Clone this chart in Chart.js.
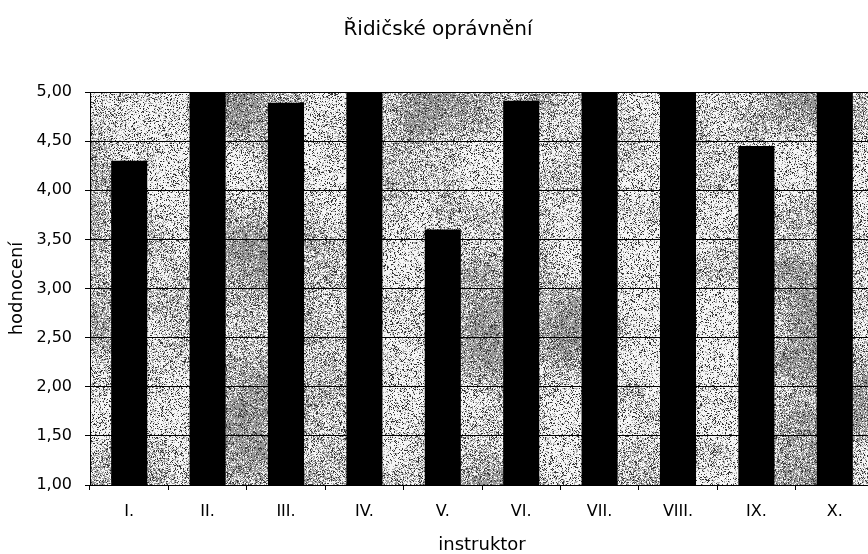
<!DOCTYPE html>
<html>
<head>
<meta charset="utf-8">
<script src="https://cdn.jsdelivr.net/npm/chart.js@4"></script>
<style>
  html, body { margin: 0; padding: 0; background: #fff; overflow: hidden; }
  #wrap { width: 868px; height: 554px; overflow: hidden; }
  canvas { display: block; }
</style>
</head>
<body>
<div id="wrap"><canvas id="c" width="880" height="554"></canvas></div>
<script>
// Instructor ratings for the driving licence course
const chartTitle = 'Řidičské oprávnění';
const categories = ['I.', 'II.', 'III.', 'IV.', 'V.', 'VI.', 'VII.', 'VIII.', 'IX.', 'X.'];
const ratings = [4.30, 5.00, 4.89, 5.00, 3.60, 4.91, 5.00, 5.00, 4.45, 5.00];
const yTitle = 'hodnocení';
const xTitle = 'instruktor';

const FONT = '"DejaVu Sans", sans-serif';

// Speckled grey backdrop for the plot area (deterministic hash noise)
function hash(x, y) {
  let h = (x * 374761393 + y * 668265263) | 0;
  h = (h ^ (h >>> 13)) * 1274126177 | 0;
  h = h ^ (h >>> 16);
  return (h >>> 0) / 4294967296;
}
function smooth(t) { return t * t * (3 - 2 * t); }
function valueNoise(x, y, cell, seed) {
  const gx = Math.floor(x / cell), gy = Math.floor(y / cell);
  const fx = smooth(x / cell - gx), fy = smooth(y / cell - gy);
  const a = hash(gx + seed, gy), b = hash(gx + 1 + seed, gy);
  const c = hash(gx + seed, gy + 1), d = hash(gx + 1 + seed, gy + 1);
  return (a * (1 - fx) + b * fx) * (1 - fy) + (c * (1 - fx) + d * fx) * fy;
}
let texture = null;
function buildTexture(w, h) {
  const cv = document.createElement('canvas');
  cv.width = w; cv.height = h;
  const ctx = cv.getContext('2d');
  const img = ctx.createImageData(w, h);
  for (let y = 0; y < h; y++) {
    for (let x = 0; x < w; x++) {
      const f = 0.65 * valueNoise(x, y, 80, 17) + 0.35 * valueNoise(x, y, 30, 91);
      const g = Math.min(1, Math.max(0, (f - 0.28) * 2.0));
      const p = hash(x + 1000, y + 7);
      const q = hash(x + 31, y + 5000);
      let v;
      if (q < g) {
        v = p < 0.18 ? 60 : (p < 0.32 ? 235 : 150);
      } else {
        v = p < 0.14 ? 50 : (p < 0.30 ? 175 : 245);
      }
      const i = (y * w + x) * 4;
      img.data[i] = img.data[i + 1] = img.data[i + 2] = v;
      img.data[i + 3] = 255;
    }
  }
  ctx.putImageData(img, 0, 0);
  return cv;
}

const plotBackground = {
  id: 'plotBackground',
  beforeDraw(chart) {
    const a = chart.chartArea;
    const w = Math.round(a.right - a.left), h = Math.round(a.bottom - a.top);
    if (!texture || texture.width !== w || texture.height !== h) texture = buildTexture(w, h);
    chart.ctx.drawImage(texture, a.left, a.top);
  }
};

const titlePlugin = {
  id: 'titleText',
  afterDraw(chart) {
    const ctx = chart.ctx;
    ctx.save();
    ctx.font = '20px ' + FONT;
    ctx.fillStyle = '#000';
    ctx.textAlign = 'center';
    ctx.textBaseline = 'alphabetic';
    ctx.fillText(chartTitle, 438, 35);
    ctx.restore();
  }
};

new Chart(document.getElementById('c'), {
  type: 'bar',
  data: {
    labels: categories,
    datasets: [{
      data: ratings,
      backgroundColor: '#000',
      borderWidth: 0,
      categoryPercentage: 1.0,
      barPercentage: 0.46
    }]
  },
  options: {
    responsive: false,
    animation: false,
    layout: { padding: { top: 92, left: 0, right: 6, bottom: 0 } },
    plugins: { legend: { display: false }, tooltip: { enabled: false }, title: { display: false } },
    scales: {
      x: {
        offset: true,
        grid: { display: true, drawOnChartArea: false, drawTicks: true, tickLength: 5, color: '#000', offset: true },
        border: { display: true, color: '#000', width: 1 },
        ticks: { color: '#000', font: { family: FONT, size: 16 }, padding: 12, maxRotation: 0 },
        title: { display: true, text: xTitle, color: '#000', font: { family: FONT, size: 18, lineHeight: 1 }, padding: { top: 0, bottom: 0 } },
        afterFit(scale) { scale.height = 69; }
      },
      y: {
        min: 1, max: 5,
        grid: { color: '#000', lineWidth: 1, drawTicks: true, tickLength: 5 },
        border: { display: true, color: '#000', width: 1 },
        ticks: {
          stepSize: 0.5,
          color: '#000',
          font: { family: FONT, size: 16 },
          padding: 13,
          callback: (v) => v.toFixed(2).replace('.', ',')
        },
        title: { display: true, text: yTitle, color: '#000', font: { family: FONT, size: 18, lineHeight: 1 }, padding: { top: 8, bottom: 0 } },
        afterFit(scale) { scale.width = 90; }
      }
    }
  },
  plugins: [plotBackground, titlePlugin]
});
</script>
</body>
</html>
